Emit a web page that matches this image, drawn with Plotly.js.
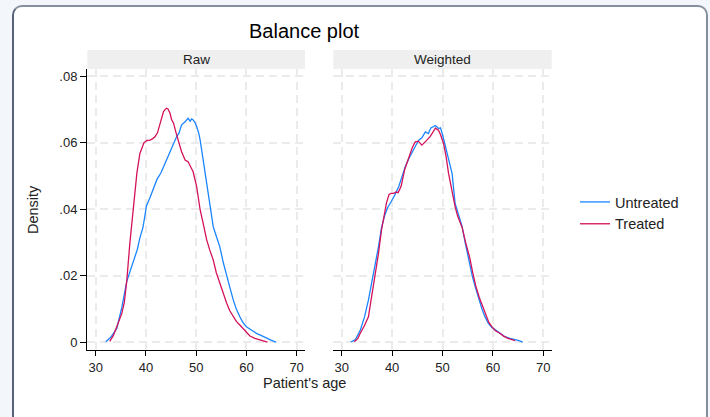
<!DOCTYPE html>
<html>
<head>
<meta charset="utf-8">
<script src="https://cdn.plot.ly/plotly-3.0.1.min.js"></script>
<style>
  html, body { margin: 0; padding: 0; width: 710px; height: 417px; overflow: hidden; background: #f3f7fc; }
  #card { position: absolute; left: 12px; top: 5px; width: 692px; height: 440px; background: #ffffff;
          border: 2px solid #858f9d; border-left-color: #56637a; border-radius: 10px; }
  #chart { position: absolute; left: 0; top: 0; width: 710px; height: 417px; }
</style>
</head>
<body>
<div id="card"></div>
<div id="chart"></div>
<script>
// ---- Data ----
const panelLabels = ["Raw", "Weighted"];
const groupLabels = ["Untreated", "Treated"];
const xTickVals = [30, 40, 50, 60, 70];
const yTickVals = [0, 0.02, 0.04, 0.06, 0.08];
const yTickText = ["0", ".02", ".04", ".06", ".08"];

const rawUntreatedAge = [32.0,33.0,34.2,35.2,36.2,37.0,37.5,38.3,38.8,39.4,39.8,40.1,40.8,41.5,42.2,43.0,43.5,44.2,44.8,45.5,46.1,46.6,47.1,47.7,48.0,48.4,48.8,49.1,49.4,49.8,50.1,50.5,50.8,51.3,51.75,52.2,52.7,53.4,54.0,54.7,55.4,56.1,56.8,57.4,58.0,58.7,59.3,60.0,61.0,62.0,63.0,64.0,65.0,65.9];
const rawUntreatedDens = [0.0002,0.0015,0.0042,0.0105,0.0184,0.022,0.0248,0.028,0.0314,0.0345,0.038,0.041,0.0435,0.0463,0.049,0.051,0.0528,0.055,0.0573,0.0595,0.0618,0.063,0.0654,0.0662,0.0668,0.0674,0.0665,0.0672,0.0669,0.066,0.0649,0.063,0.0608,0.056,0.0508,0.046,0.0418,0.0348,0.032,0.0288,0.024,0.0197,0.016,0.0127,0.010,0.0077,0.006,0.0047,0.0037,0.0027,0.0020,0.0012,0.0006,0.0001];

const rawTreatedAge = [32.8,33.5,34.2,34.8,35.2,35.7,36.2,36.8,37.5,38.2,38.8,39.6,40.2,40.8,41.3,41.8,42.3,42.8,43.2,43.5,43.8,44.1,44.4,44.8,45.1,45.5,46.0,46.4,47.1,47.8,48.4,49.0,49.4,50.1,50.8,51.4,52.1,52.7,53.4,54.0,54.7,55.4,56.1,56.7,57.4,58.0,58.7,59.7,60.7,61.7,62.7,63.5,64.2];
const rawTreatedDens = [0.0003,0.002,0.0047,0.0068,0.0087,0.012,0.0187,0.0298,0.0398,0.0509,0.0568,0.060,0.0607,0.0608,0.0612,0.0618,0.063,0.0659,0.068,0.0694,0.070,0.0704,0.0702,0.0689,0.067,0.0659,0.063,0.0608,0.0573,0.0548,0.0543,0.0525,0.0513,0.0468,0.0398,0.0358,0.0308,0.0278,0.0248,0.021,0.0177,0.0145,0.0117,0.0095,0.0077,0.0063,0.0052,0.0034,0.0019,0.0012,0.0007,0.0003,0.0001];

const wtUntreatedAge = [31.8,32.7,33.7,34.5,35.3,36.3,37.3,37.9,38.5,39.1,39.6,40.0,40.6,41.3,42.0,42.6,43.4,44.3,44.8,45.3,45.9,46.6,47.2,47.7,48.2,48.6,49.2,49.6,50.0,50.6,51.2,51.9,52.5,52.9,53.9,54.5,55.2,55.9,56.5,57.2,57.8,58.4,59.1,59.8,60.5,61.4,62.4,63.4,64.4,65.2,65.9];
const wtUntreatedDens = [0.0001,0.0008,0.0037,0.0075,0.0127,0.0202,0.0288,0.0345,0.038,0.0405,0.042,0.0428,0.0445,0.0468,0.050,0.0528,0.0555,0.0584,0.0595,0.0608,0.0615,0.0633,0.0628,0.0645,0.0648,0.0652,0.0643,0.0645,0.0625,0.0588,0.055,0.0508,0.0418,0.040,0.0348,0.030,0.0248,0.020,0.0167,0.013,0.0102,0.0078,0.0057,0.0045,0.0037,0.0026,0.0017,0.0012,0.0009,0.0005,0.0001];

const wtTreatedAge = [32.5,33.2,33.7,34.5,35.3,36.3,37.3,37.9,38.4,38.9,39.4,39.8,40.3,40.8,41.2,41.8,42.5,43.3,44.0,44.6,45.2,45.9,46.4,46.9,47.6,48.2,48.6,49.2,49.6,50.2,50.7,51.2,51.8,52.5,53.0,53.9,54.6,55.4,56.0,56.6,57.3,58.0,58.6,59.2,59.9,60.5,61.3,62.2,63.0,63.8,64.4];
const wtTreatedDens = [0.0002,0.0012,0.0028,0.005,0.0077,0.0167,0.0268,0.0338,0.038,0.042,0.0445,0.0448,0.0448,0.0452,0.045,0.047,0.052,0.0558,0.0585,0.0603,0.0605,0.0593,0.060,0.0608,0.062,0.0635,0.0644,0.0638,0.0625,0.0598,0.056,0.0508,0.046,0.0408,0.038,0.0345,0.030,0.0255,0.021,0.017,0.0135,0.0105,0.008,0.006,0.0045,0.0035,0.0028,0.0018,0.0012,0.0009,0.0005];

// ---- Styling ----
const W = 710, H = 417;
const FONT = "Liberation Sans, Arial, Helvetica, sans-serif";
const colUntreated = "#1a85ff";
const colTreated = "#d41159";
const px = v => v / W;
const py = v => 1 - v / H;

const dom1 = [px(87.3), px(305)];
const dom2 = [px(333.3), px(551.7)];
const ydom = [py(350), py(69)];

function line(x, y, color, name, xa, ya, show) {
  return { x: x, y: y, type: "scatter", mode: "lines", name: name,
           xaxis: xa, yaxis: ya, showlegend: show, legendgroup: name,
           line: { color: color, width: 1.3 }, hoverinfo: "skip" };
}

const data = [
  line(rawUntreatedAge, rawUntreatedDens, colUntreated, groupLabels[0], "x", "y", true),
  line(rawTreatedAge, rawTreatedDens, colTreated, groupLabels[1], "x", "y", true),
  line(wtUntreatedAge, wtUntreatedDens, colUntreated, groupLabels[0], "x2", "y2", false),
  line(wtTreatedAge, wtTreatedDens, colTreated, groupLabels[1], "x2", "y2", false)
];

const gridStyle = { showgrid: true, gridcolor: "#ebebeb", gridwidth: 2, griddash: "8px,5px", zeroline: false };
const xBase = Object.assign({
  range: [28.33, 71.67], tickmode: "array", tickvals: xTickVals,
  ticks: "outside", ticklen: 5, tickwidth: 1, tickcolor: "#000",
  showline: true, linecolor: "#000", linewidth: 1.3,
  tickfont: { family: FONT, size: 13, color: "#222" }, automargin: false, fixedrange: true
}, gridStyle);
const yBase = Object.assign({
  range: [-0.0023, 0.0822], tickmode: "array", tickvals: yTickVals, ticktext: yTickText,
  domain: ydom, automargin: false, fixedrange: true,
  tickfont: { family: FONT, size: 13, color: "#222" }
}, gridStyle);

const layout = {
  width: W, height: H,
  margin: { l: 0, r: 0, t: 0, b: 0 },
  paper_bgcolor: "rgba(0,0,0,0)", plot_bgcolor: "rgba(0,0,0,0)",
  font: { family: FONT, color: "#222" },
  xaxis: Object.assign({}, xBase, { domain: dom1, anchor: "y" }),
  xaxis2: Object.assign({}, xBase, { domain: dom2, anchor: "y2" }),
  yaxis: Object.assign({}, yBase, { anchor: "x", ticks: "outside", ticklen: 6, tickcolor: "#000",
                                    showline: true, linecolor: "#000", linewidth: 1.3 }),
  yaxis2: Object.assign({}, yBase, { anchor: "x2", showticklabels: false, ticks: "", showline: false }),
  showlegend: true,
  legend: { x: px(575), y: py(186), xanchor: "left", yanchor: "top", bgcolor: "rgba(0,0,0,0)",
            font: { family: FONT, size: 14.5, color: "#222" }, tracegroupgap: 0, borderwidth: 0 },
  shapes: [
    { type: "rect", xref: "paper", yref: "paper", x0: dom1[0], x1: dom1[1], y0: py(69), y1: py(50),
      fillcolor: "#efefef", line: { width: 0 }, layer: "below" },
    { type: "rect", xref: "paper", yref: "paper", x0: dom2[0], x1: dom2[1], y0: py(69), y1: py(50),
      fillcolor: "#efefef", line: { width: 0 }, layer: "below" }
  ],
  annotations: [
    { text: "Balance plot", xref: "paper", yref: "paper", x: px(304), y: py(31), showarrow: false,
      xanchor: "center", yanchor: "middle", font: { family: FONT, size: 20, color: "#000" } },
    { text: panelLabels[0], xref: "paper", yref: "paper", x: (dom1[0] + dom1[1]) / 2, y: py(59.5), showarrow: false,
      xanchor: "center", yanchor: "middle", font: { family: FONT, size: 13.5, color: "#222" } },
    { text: panelLabels[1], xref: "paper", yref: "paper", x: (dom2[0] + dom2[1]) / 2, y: py(59.5), showarrow: false,
      xanchor: "center", yanchor: "middle", font: { family: FONT, size: 13.5, color: "#222" } },
    { text: "Patient's age", xref: "paper", yref: "paper", x: px(304), y: py(383), showarrow: false,
      xanchor: "center", yanchor: "middle", font: { family: FONT, size: 14.5, color: "#222" } },
    { text: "Density", xref: "paper", yref: "paper", x: px(33), y: py(210), showarrow: false, textangle: -90,
      xanchor: "center", yanchor: "middle", font: { family: FONT, size: 14.5, color: "#222" } }
  ]
};

Plotly.newPlot("chart", data, layout, { displayModeBar: false, staticPlot: true });
</script>
</body>
</html>
